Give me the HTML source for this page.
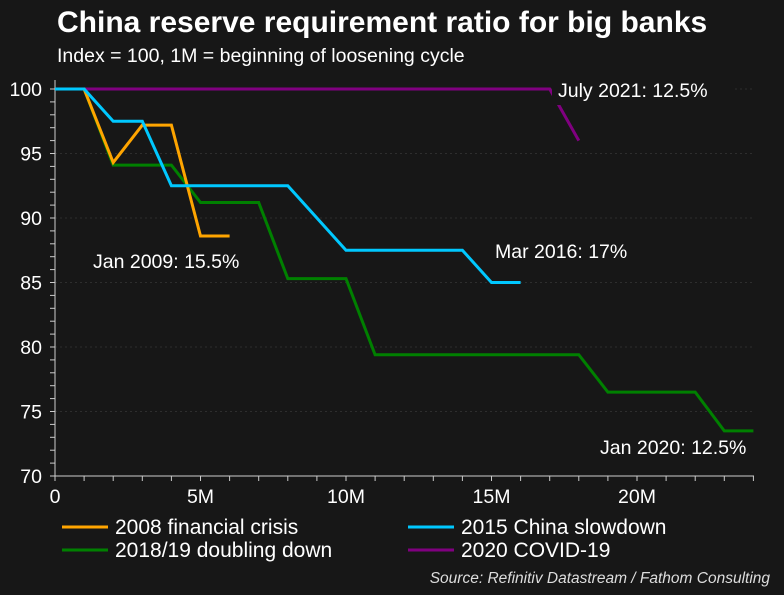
<!DOCTYPE html>
<html><head><meta charset="utf-8"><style>
body{margin:0;background:#171717;}
svg text{font-family:"Liberation Sans",sans-serif;fill:#fff;}
</style></head><body>
<svg width="784" height="590" xmlns="http://www.w3.org/2000/svg">
<rect width="784" height="590" fill="#171717"/>
<text x="57" y="32" font-size="30" font-weight="bold">China reserve requirement ratio for big banks</text>
<text x="57" y="62" font-size="19.5">Index = 100, 1M = beginning of loosening cycle</text>
<g id="grid"></g><g id="axes"></g><g id="series"></g><g id="ann"></g><g id="legend"></g>
<text x="770" y="583" font-size="15.5" font-style="italic" text-anchor="end" style="fill:#ddd">Source: Refinitiv Datastream / Fathom Consulting</text>
</svg>
<script>
const yTicks=[70,75,80,85,90,95,100];
const xTicks=[0,5,10,15,20];
const xTickLabels=["0","5M","10M","15M","20M"];
const crisisX=[0,1,2,3,4,5,6];
const crisisY=[100,100,94.3,97.2,97.2,88.6,88.6];
const slowX=[0,1,2,3,4,5,8,10,14,15,16];
const slowY=[100,100,97.5,97.5,92.5,92.5,92.5,87.5,87.5,85,85];
const doubleX=[0,1,2,4,5,7,8,10,11,18,19,22,23,24];
const doubleY=[100,100,94.1,94.1,91.2,91.2,85.3,85.3,79.4,79.4,76.5,76.5,73.5,73.5];
const covidX=[0,17,18];
const covidY=[100,100,96];
const NS="http://www.w3.org/2000/svg";
const X=v=>55+v*29.1, Y=v=>89+(100-v)*12.9;
function mk(t,a,p){const e=document.createElementNS(NS,t);for(const k in a)e.setAttribute(k,a[k]);document.getElementById(p).appendChild(e);return e;}
yTicks.forEach(v=>{if(v>70){const g=mk('line',{x1:55,x2:754,y1:Y(v),y2:Y(v),stroke:'#2e2e2e','stroke-dasharray':'2,3'},'grid');

}
const t=mk('text',{x:42,y:Y(v)+7,'font-size':19.5,'text-anchor':'end'},'axes');t.textContent=v;

});
for(let v=70;v<=100;v++){const l=mk('line',{x1:50,x2:55,y1:Y(v),y2:Y(v),stroke:'#ccc'},'axes');

}
xTicks.forEach((v,i)=>{const t=mk('text',{x:X(v),y:503,'font-size':19.5,'text-anchor':'middle'},'axes');t.textContent=xTickLabels[i];

});
for(let v=0;v<=24;v++){const l=mk('line',{x1:X(v),x2:X(v),y1:476,y2:481,stroke:'#ccc'},'axes');

}
const ya=mk('line',{x1:55,x2:55,y1:80,y2:476,stroke:'#ccc'},'axes');


const xa=mk('line',{x1:55,x2:754,y1:476,y2:476,stroke:'#ccc'},'axes');


function line(xs,ys,c,name){const p=mk('polyline',{points:xs.map((x,i)=>X(x)+','+Y(ys[i])).join(' '),fill:'none',stroke:c,'stroke-width':3},'series');

}
line(covidX,covidY,'#800080','series-2020-covid');
line(doubleX,doubleY,'#008000','series-2018-doubling-down');
line(crisisX,crisisY,'#ffa500','series-2008-crisis');
line(slowX,slowY,'#00c8ff','series-2015-slowdown');
function ann(x,y,t,bg,name){if(bg){const r=mk('rect',{x:x-6,y:y-22,width:bg,height:30,fill:'#171717'},'ann');

}
const e=mk('text',{x:x,y:y,'font-size':19.5},'ann');e.textContent=t;

}
ann(558,97,'July 2021: 12.5%',180,'annotation-july-2021');
ann(93,268,'Jan 2009: 15.5%',0,'annotation-jan-2009');
ann(495,258,'Mar 2016: 17%',0,'annotation-mar-2016');
ann(600,454,'Jan 2020: 12.5%',0,'annotation-jan-2020');
const leg=[['2008 financial crisis','#ffa500',62,534],['2015 China slowdown','#00c8ff',408,534],['2018/19 doubling down','#008000',62,557],['2020 COVID-19','#800080',408,557]];
leg.forEach(l=>{const s=mk('line',{x1:l[2],x2:l[2]+46,y1:l[3]-7,y2:l[3]-7,stroke:l[1],'stroke-width':3},'legend');


const t=mk('text',{x:l[2]+53,y:l[3],'font-size':21},'legend');t.textContent=l[0];

});
</script>
</body></html>
